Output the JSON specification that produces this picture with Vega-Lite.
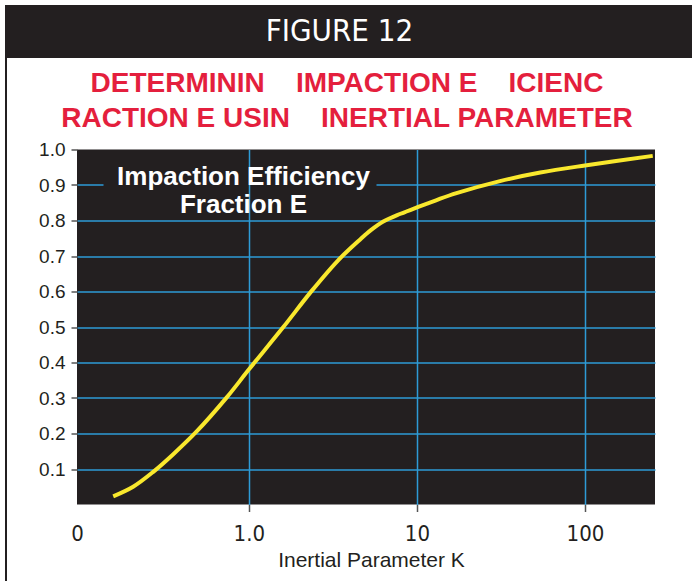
{
  "$schema": "https://vega.github.io/schema/vega-lite/v6.json",
  "background": "white",
  "padding": {"left": 5, "top": 5, "right": 0, "bottom": 0},
  "spacing": 0,
  "config": {"view": {"stroke": null}},
  "vconcat": [
    {
      "width": 687,
      "height": 53,
      "view": {"fill": "#231f20", "stroke": null},
      "data": {"values": [{"label": "FIGURE 12"}]},
      "mark": {"type": "text", "color": "white", "font": "Liberation Sans Narrow, DejaVu Sans Condensed, Liberation Sans", "fontSize": 31, "baseline": "middle", "align": "center", "dx": -9},
      "encoding": {"text": {"field": "label"}}
    },
    {
      "spacing": 31,
      "center": true,
      "hconcat": [
        {
          "width": 2,
          "height": 604,
          "view": {"fill": "#231f20", "stroke": null},
          "data": {"values": [{"label": ""}]},
          "mark": {"type": "text"},
          "encoding": {"text": {"field": "label"}}
        },
        {
          "width": 578,
          "height": 355,
          "view": {"fill": "#231f20", "stroke": null},
          "title": {
            "text": ["DETERMININ\u00a0\u00a0\u00a0\u00a0IMPACTION E\u00a0\u00a0\u00a0\u00a0ICIENC", "RACTION E USIN\u00a0\u00a0\u00a0\u00a0INERTIAL PARAMETER"],
            "font": "Liberation Sans",
            "fontSize": 28,
            "fontWeight": "bold",
            "color": "#e41f3d",
            "lineHeight": 35,
            "anchor": "middle",
            "dx": -19,
            "offset": 8
          },
          "data": {"values": [
            {"K": 0.156, "E": 0.023},
            {"K": 0.205, "E": 0.05},
            {"K": 0.27, "E": 0.092},
            {"K": 0.354, "E": 0.141},
            {"K": 0.488, "E": 0.205},
            {"K": 0.737, "E": 0.301},
            {"K": 1.0, "E": 0.38},
            {"K": 1.6, "E": 0.499},
            {"K": 2.36, "E": 0.601},
            {"K": 3.4, "E": 0.688},
            {"K": 4.58, "E": 0.746},
            {"K": 5.3, "E": 0.772},
            {"K": 6.31, "E": 0.797},
            {"K": 8.0, "E": 0.819},
            {"K": 10, "E": 0.837},
            {"K": 13, "E": 0.857},
            {"K": 17.2, "E": 0.877},
            {"K": 31.2, "E": 0.911},
            {"K": 54.2, "E": 0.935},
            {"K": 100, "E": 0.955},
            {"K": 253, "E": 0.982}
          ]},
          "mark": {"type": "line", "color": "#f9e82d", "strokeWidth": 4, "interpolate": "catmull-rom"},
          "encoding": {
            "x": {
              "field": "K", "type": "quantitative",
              "scale": {"type": "log", "domain": [0.095, 261], "nice": false},
              "axis": {
                "values": [0.095, 1, 10, 100],
                "labelExpr": "datum.value < 0.5 ? '0' : datum.value < 5 ? '1.0' : format(datum.value, 'd')",
                "domain": false,
                "grid": true,
                "gridColor": "#2e9bd6",
                "gridWidth": 1.5,
                "gridOpacity": {"condition": {"test": "datum.value < 0.5", "value": 0}, "value": 1},
                "ticks": true,
                "tickColor": "#555555",
                "tickWidth": 1.5,
                "tickSize": 7,
                "tickOpacity": {"condition": {"test": "datum.value < 0.5", "value": 0}, "value": 1},
                "labelFont": "Liberation Sans Narrow, DejaVu Sans Condensed, Liberation Sans",
                "labelFontSize": 22,
                "labelColor": "#231f20",
                "labelPadding": 12,
                "labelFlush": false,
                "labelOverlap": false,
                "title": "Inertial Parameter K",
                "titleFont": "Liberation Sans",
                "titleFontSize": 21,
                "titleFontWeight": "normal",
                "titleColor": "#231f20",
                "titleX": 294,
                "titleY": 62,
                "titleAlign": "center",
                "titleBaseline": "alphabetic"
              }
            },
            "y": {
              "field": "E", "type": "quantitative",
              "scale": {"domain": [0, 1], "nice": false, "zero": false},
              "axis": {
                "values": [0.1, 0.2, 0.3, 0.4, 0.5, 0.6, 0.7, 0.8, 0.9, 1.0],
                "format": ".1f",
                "domain": false,
                "grid": true,
                "gridColor": "#2e9bd6",
                "gridWidth": 1.5,
                "gridOpacity": {"condition": {"test": "datum.value > 0.95", "value": 0}, "value": 1},
                "gridDash": {"condition": {"test": "abs(datum.value - 0.9) < 0.01", "value": [26, 273, 400]}, "value": []},
                "tickColor": "#555555",
                "tickWidth": 1.5,
                "tickSize": 6,
                "labelFont": "Liberation Sans",
                "labelFontSize": 19,
                "labelColor": "#231f20",
                "labelPadding": 6,
                "labelFlush": false,
                "labelOverlap": false,
                "title": ["Impaction Efficiency", "Fraction E"],
                "titleAngle": 0,
                "titleX": 166,
                "titleY": 35,
                "titleAlign": "center",
                "titleBaseline": "alphabetic",
                "titleFont": "Liberation Sans",
                "titleFontSize": 26,
                "titleFontWeight": "bold",
                "titleColor": "white",
                "titleLineHeight": 28
              }
            }
          }
        }
      ]
    }
  ]
}
